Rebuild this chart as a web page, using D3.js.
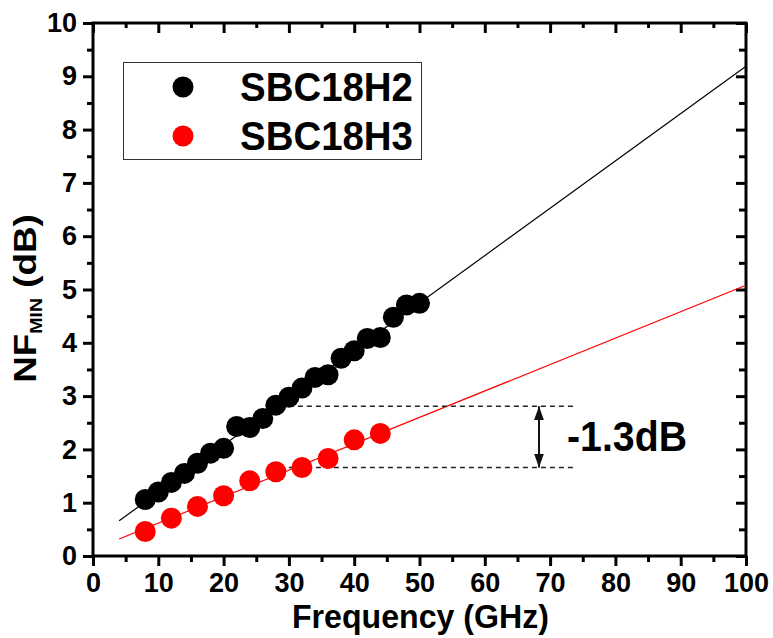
<!DOCTYPE html>
<html>
<head>
<meta charset="utf-8">
<script src="https://cdn.jsdelivr.net/npm/d3@7"></script>
<style>
  body { margin: 0; background: #fff; }
  text { font-family: Arial, 'Liberation Sans', sans-serif; font-weight: bold; }
</style>
</head>
<body>
<svg id="chart" width="773" height="638"></svg>
<script>
const freqH2 = [8, 10, 12, 14, 16, 18, 20, 22, 24, 26, 28, 30, 32, 34, 36, 38, 40, 42, 44, 46, 48, 50];
const nfH2 = [1.06, 1.2, 1.38, 1.55, 1.74, 1.93, 2.02, 2.43, 2.41, 2.58, 2.83, 2.98, 3.15, 3.35, 3.4, 3.71, 3.85, 4.08, 4.1, 4.48, 4.71, 4.74];
const freqH3 = [8, 12, 16, 20, 24, 28, 32, 36, 40, 44];
const nfH3 = [0.46, 0.71, 0.93, 1.13, 1.41, 1.58, 1.66, 1.83, 2.18, 2.3];

// linear fits (end points)
const fitFreq = [4, 100];
const fitH2 = [0.66, 9.19];
const fitH3 = [0.32, 5.08];

// -1.3dB annotation
const deltaFreq = [30, 74];
const deltaLevels = [2.81, 1.66];
const arrowFreq = 68.3;
const deltaLabel = '-1.3dB';

const seriesNames = ['SBC18H2', 'SBC18H3'];
const seriesColors = ['#000', '#ff0000'];

const xMajor = d3.range(0, 101, 10);
const xMinor = d3.range(5, 100, 10);
const yMajor = d3.range(0, 11, 1);
const yMinor = d3.range(0.5, 10, 1);

const svg = d3.select('#chart');
const x = d3.scaleLinear().domain([0, 100]).range([93, 746]);
const y = d3.scaleLinear().domain([0, 10]).range([556, 23]);

svg.append('rect').attr('width', 773).attr('height', 638).attr('fill', '#fff');

function styleAxis(g) {
  g.select('.domain').remove();
  g.selectAll('line').attr('stroke', '#000').attr('stroke-width', 3);
  g.selectAll('text').attr('font-size', 27).attr('fill', '#000')
    .attr('font-family', "Arial, 'Liberation Sans', sans-serif").attr('font-weight', 'bold');
}

// bottom / left: outward ticks with labels
svg.append('g').attr('transform', `translate(0,${y(0)})`)
  .call(d3.axisBottom(x).tickValues(xMajor).tickSize(10).tickPadding(7).tickFormat(d3.format('d')))
  .call(styleAxis);
svg.append('g').attr('transform', `translate(0,${y(0)})`)
  .call(d3.axisBottom(x).tickValues(xMinor).tickSize(6).tickFormat(''))
  .call(styleAxis);
svg.append('g').attr('transform', `translate(${x(0)},0)`)
  .call(d3.axisLeft(y).tickValues(yMajor).tickSize(10).tickPadding(6).tickFormat(d3.format('d')))
  .call(styleAxis);
svg.append('g').attr('transform', `translate(${x(0)},0)`)
  .call(d3.axisLeft(y).tickValues(yMinor).tickSize(6).tickFormat(''))
  .call(styleAxis);

// top / right: inward ticks, no labels
svg.append('g').attr('transform', `translate(0,${y(10)})`)
  .call(d3.axisTop(x).tickValues(xMajor).tickSize(-10).tickFormat(''))
  .call(styleAxis);
svg.append('g').attr('transform', `translate(0,${y(10)})`)
  .call(d3.axisTop(x).tickValues(xMinor).tickSize(-5).tickFormat(''))
  .call(styleAxis);
svg.append('g').attr('transform', `translate(${x(100)},0)`)
  .call(d3.axisRight(y).tickValues(yMajor).tickSize(-10).tickFormat(''))
  .call(styleAxis);
svg.append('g').attr('transform', `translate(${x(100)},0)`)
  .call(d3.axisRight(y).tickValues(yMinor).tickSize(-7).tickFormat(''))
  .call(styleAxis);

svg.append('rect')
  .attr('x', x(0)).attr('y', y(10))
  .attr('width', x(100) - x(0)).attr('height', y(0) - y(10))
  .attr('fill', 'none').attr('stroke', '#000').attr('stroke-width', 3);

// axis titles
svg.append('text').attr('x', 292).attr('y', 628)
  .attr('font-size', 34).attr('textLength', 257).attr('lengthAdjust', 'spacingAndGlyphs')
  .text('Frequency (GHz)');

const yTitle = svg.append('text')
  .attr('transform', `translate(36,${(y(0) + y(10)) / 2 + 9}) rotate(-90) scale(1.15,1)`)
  .attr('text-anchor', 'middle').attr('font-size', 32);
yTitle.append('tspan').text('NF');
yTitle.append('tspan').attr('font-size', 17).attr('dy', 6).text('MIN');
yTitle.append('tspan').attr('dy', -6).text(' (dB)');

// fit lines
const line = d3.line().x((d) => x(d[0])).y((d) => y(d[1]));
[fitH2, fitH3].forEach((fit, i) => {
  svg.append('path')
    .datum(fitFreq.map((f, j) => [f, fit[j]]))
    .attr('d', line).attr('fill', 'none')
    .attr('stroke', seriesColors[i]).attr('stroke-width', 1.2);
});

// dashed reference levels
svg.selectAll('.delta').data(deltaLevels).join('line')
  .attr('x1', x(deltaFreq[0])).attr('x2', x(deltaFreq[1]))
  .attr('y1', (d) => y(d)).attr('y2', (d) => y(d))
  .attr('stroke', '#222').attr('stroke-width', 1.5).attr('stroke-dasharray', '5,4');

// double arrow
const defs = svg.append('defs');
defs.append('marker').attr('id', 'arrow')
  .attr('viewBox', '0 0 14 10').attr('refX', 14).attr('refY', 5)
  .attr('markerUnits', 'userSpaceOnUse').attr('markerWidth', 14).attr('markerHeight', 10)
  .attr('orient', 'auto-start-reverse')
  .append('path').attr('d', 'M0,0 L14,5 L0,10 Z').attr('fill', '#111');

svg.append('line')
  .attr('x1', x(arrowFreq)).attr('x2', x(arrowFreq))
  .attr('y1', y(deltaLevels[0])).attr('y2', y(deltaLevels[1]))
  .attr('stroke', '#111').attr('stroke-width', 2)
  .attr('marker-start', 'url(#arrow)').attr('marker-end', 'url(#arrow)');

svg.append('text').attr('x', 567).attr('y', 451)
  .attr('font-size', 42).attr('textLength', 120).attr('lengthAdjust', 'spacingAndGlyphs')
  .text(deltaLabel);

// data points
[[freqH2, nfH2], [freqH3, nfH3]].forEach(([fs, nfs], i) => {
  svg.append('g').selectAll('circle')
    .data(fs.map((f, j) => [f, nfs[j]]))
    .join('circle')
    .attr('cx', (d) => x(d[0])).attr('cy', (d) => y(d[1]))
    .attr('r', 10.5).attr('fill', seriesColors[i]);
});

// legend
const legend = svg.append('g');
legend.append('rect').attr('x', 123.5).attr('y', 62.5).attr('width', 298).attr('height', 97)
  .attr('fill', '#fff').attr('stroke', '#333').attr('stroke-width', 1);
seriesNames.forEach((name, i) => {
  const cy = 87 + i * 49;
  legend.append('circle').attr('cx', 183).attr('cy', cy).attr('r', 10.5).attr('fill', seriesColors[i]);
  legend.append('text').attr('x', 240).attr('y', cy + 14)
    .attr('font-size', 41).attr('textLength', 173).attr('lengthAdjust', 'spacingAndGlyphs')
    .text(name);
});
</script>
</body>
</html>
